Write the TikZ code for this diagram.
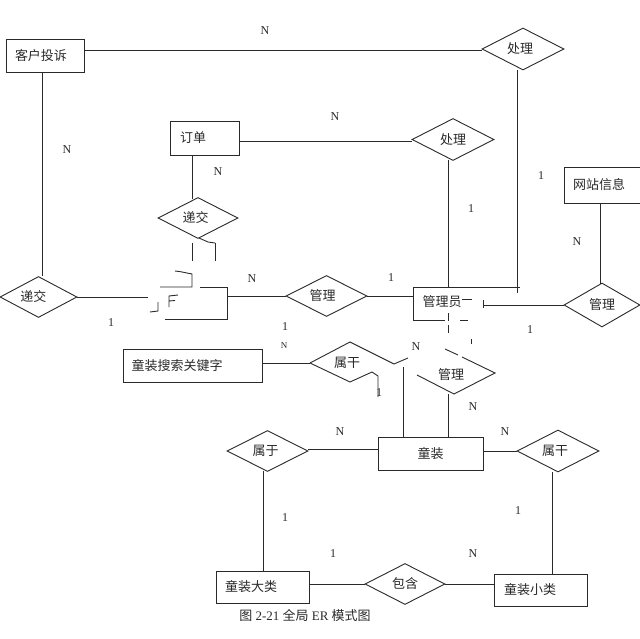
\documentclass[tikz,border=0pt]{standalone}
\usepackage{fontspec}
\setmainfont{Liberation Serif}
\newfontfamily\cjk{Noto Sans CJK SC}
\usetikzlibrary{shapes.geometric,calc}
\definecolor{ink}{HTML}{2A2A2A}
\tikzset{
  ln/.style={draw=ink,line width=0.9pt},
  ent/.style={draw=ink,line width=0.9pt,rectangle,inner sep=0pt,font=\cjk\fontsize{13}{14}\selectfont,text=ink},
  rel/.style={draw=ink,line width=0.9pt,diamond,inner sep=0pt,aspect=2,font=\cjk\fontsize{13}{14}\selectfont,text=ink,minimum width=80pt,minimum height=41pt},
  ghost/.style={inner sep=0pt,font=\cjk\fontsize{13}{14}\selectfont,text=ink},
  card/.style={inner sep=0pt,font=\fontsize{12}{14}\selectfont,text=ink},
}
\begin{document}
\begin{tikzpicture}[x=1pt,y=-1pt]
\useasboundingbox (0,0) rectangle (640,639);
\fill[white] (0,0) rectangle (640,639);
% entities
\node[ent,minimum width=78pt,minimum height=33pt] (kh) at (45,55.5) {\hspace*{-8pt}客户投诉};
\node[ent,minimum width=69pt,minimum height=34pt] (dd) at (204.5,138) {\hspace*{-23pt}订单};
\node[ent,minimum width=76pt,minimum height=36pt] (wz) at (602,185) {\hspace*{-6pt}网站信息};
\node[ghost,minimum width=69pt,minimum height=33pt] (yh) at (193,303) {};
\node[ghost,minimum width=70pt,minimum height=33pt] (gly) at (448,302) {\hspace*{-12pt}管理员};
\node[ent,minimum width=139pt,minimum height=33pt] (gjz) at (192.5,365.5) {\hspace*{-31pt}童装搜索关键字};
\node[ent,minimum width=105pt,minimum height=33pt] (tz) at (430.5,453.5) {童装};
\node[ent,minimum width=93pt,minimum height=32pt] (dl) at (262.5,587) {\hspace*{-23pt}童装大类};
\node[ent,minimum width=93pt,minimum height=32pt] (xl) at (540.5,590) {\hspace*{-21pt}童装小类};
% relations
\node[rel,minimum width=82pt,minimum height=42pt] (cl1) at (523,49) {\hspace*{-6pt}处理};
\node[rel,minimum width=82pt,minimum height=42pt] (cl2) at (453,139.5) {处理};
\node[rel] (dj2) at (198,218) {\hspace*{-5pt}递交};
\node[rel,minimum width=77pt] (dj1) at (38.5,297) {\hspace*{-10pt}递交};
\node[rel,minimum width=81pt] (gl1) at (326.5,296) {\hspace*{-8pt}管理};
\node[rel,minimum width=76pt,minimum height=44pt] (gl2) at (602,305) {管理};
\node[ghost] (sg1) at (347,363) {属干};
\node[ghost] (gl3) at (451,375) {管理};
\node[rel,minimum width=81pt] (sy) at (267.5,451) {\hspace*{-4pt}属于};
\node[rel,minimum width=82pt,minimum height=42pt] (sg2) at (558,451) {\hspace*{-6pt}属干};
\node[rel] (bh) at (405,584) {包含};
% anchors used by the connectors
\coordinate (xa) at (42,0);
\coordinate (xb) at (192,0);
\coordinate (xc) at (448,0);
\coordinate (xd) at (517,0);
\coordinate (xe) at (600,0);
\coordinate (xf) at (403,0);
\coordinate (xg) at (263,0);
\coordinate (xh) at (552,0);
\coordinate (ya) at (0,50);
\coordinate (yb) at (0,141);
\coordinate (yc) at (0,449);
\coordinate (yd) at (0,363);
\coordinate (ye) at (0,451);
\coordinate (yf) at (0,584);
% connectors between nodes
\draw[ln] (kh.east |- ya) -- (cl1.west |- ya);
\draw[ln] (xa |- kh.south) -- (xa |- dj1.north);
\draw[ln] (dd.east |- yb) -- (cl2.west |- yb);
\draw[ln] (xb |- dd.south) -- (xb |- 0,199);
\draw[ln] (dj1.east) -- (148,297);
\draw[ln] (yh.east |- gl1.west) -- (gl1.west);
\draw[ln] (gl1.east) -- (gly.west |- gl1.east);
\draw[ln] (xc |- 0,160) -- (xc |- 0,287);
\draw[ln] (xd |- 0,70) -- (xd |- 0,293);
\draw[ln] (xe |- wz.south) -- (xe |- 0,284);
\draw[ln] (gjz.east |- yd) -- (310,363);
\draw[ln] (xf |- 0,367) -- (xf |- tz.north);
\draw[ln] (xc |- 0,394) -- (xc |- tz.north);
\draw[ln] (308,449) -- (tz.west |- yc);
\draw[ln] (tz.east |- ye) -- (sg2.west);
\draw[ln] (xg |- 0,471) -- (xg |- dl.north);
\draw[ln] (xh |- 0,472) -- (xh |- xl.north);
\draw[ln] (dl.east |- yf) -- (bh.west);
\draw[ln] (bh.east) -- (xl.west |- yf);
\draw[ln] (483,305) -- (gl2.west);
% broken user box
\draw[ln] (160,287) -- (192,287) -- (192,274) to[out=170,in=-5] (175,271);
\draw[ln] (200,287) -- (227,287) -- (227,319) -- (165,319);
\draw[ln] (158,302) -- (158,311) -- (150,312);
\draw[ln] (169,307) -- (169,296) -- (178,295) (169,301) -- (175,300.5);
\draw[ln] (192,243) -- (192,261) (215,243) -- (215,261);
\draw[ln] (199,238) -- (208,242) -- (215,243);
% broken admin box
\draw[ln] (472,299) -- (462,299);
\draw[ln] (520,287) -- (413,287) -- (413,320) -- (445,320);
\draw[ln] (460,320) -- (468,320);
\draw[ln] (483,300) -- (483,308);
\draw[ln] (448,313) -- (448,321) (448,325) -- (448,333);
\draw[ln] (471,339) -- (471,344);
% broken lower relation
\draw[ln] (445,349) -- (458,355) (462,357) -- (495,373) -- (454,394) -- (417,375);
% broken middle relation
\draw[ln] (310,363) -- (350,342) -- (394,364) -- (408,358);
\draw[ln] (310,363) -- (350,382) -- (372,372) -- (378,376) -- (378,397);
% cardinalities
\foreach \t/\x/\y/\n in {N/265/31/c1,N/67/150/c2,N/335/117/c3,1/541/176/c4,N/218/172/c5,1/471/209/c6,N/577/242/c7,1/391/278/c8,N/252/279/c9,1/111/323/c10,1/285/327/c11,N/416/347/c12,1/530/330/c13,N/473/407/c14,N/340/432/c15,N/505/432/c16,1/285/518/c17,1/518/511/c18,1/333/554/c19,N/473/554/c20,1/379/393/c22}
  \node[card] (\n) at (\x,\y) {\t};
\node[card,font=\fontsize{9}{10}\selectfont] (c21) at (284,346) {N};
\node[inner sep=0pt,font=\fontsize{13}{14}\selectfont,text=ink] (cap) at (305,615) {{\cjk 图} 2-21 {\cjk 全局} ER {\cjk 模式图}};
\end{tikzpicture}
\end{document}
